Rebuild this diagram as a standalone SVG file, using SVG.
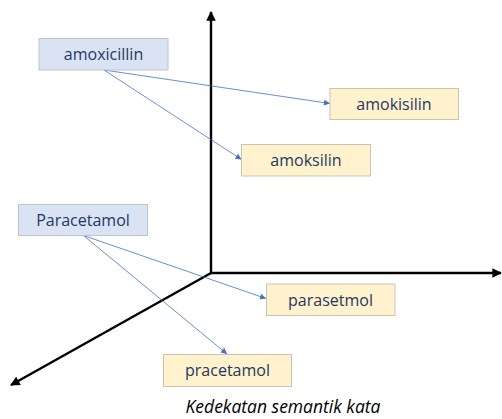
<svg xmlns="http://www.w3.org/2000/svg" width="502" height="419" viewBox="0 0 502 419">
  <defs>
    <marker id="axisHead" viewBox="0 0 10 10" refX="9" refY="5" markerWidth="4" markerHeight="4" orient="auto" markerUnits="strokeWidth">
      <path d="M0,0 L10,5 L0,10 z" fill="#000"/>
    </marker>
    <marker id="linkHead" viewBox="0 0 10 10" refX="10" refY="5" markerWidth="8" markerHeight="6" orient="auto" markerUnits="userSpaceOnUse">
      <path d="M0,0 L10,5 L0,10 z" fill="#4472c4"/>
    </marker>
    <style>
      .axis { stroke: #000; stroke-width: 2.4; fill: none; marker-end: url(#axisHead); }
      .link { stroke: #4472c4; stroke-width: 0.8; fill: none; marker-end: url(#linkHead); }
      .src rect { fill: #dae3f3; stroke: #bfc4cc; stroke-width: 1; }
      .dst rect { fill: #fff2cc; stroke: #c8c4b4; stroke-width: 1; }
      .label { font-family: "Open Sans", "Liberation Sans", sans-serif; font-size: 16px; fill: #1f3864; text-anchor: middle; }
      .caption { font-family: "Open Sans", "Liberation Sans", sans-serif; font-size: 17.5px; font-style: italic; fill: #000; text-anchor: middle; }
    </style>
  </defs>

  <!-- coordinate axes -->
  <g id="axes">
    <line class="axis" x1="211" y1="273" x2="211" y2="12"/>
    <line class="axis" x1="210" y1="273" x2="501" y2="273"/>
    <line class="axis" x1="211" y1="273" x2="11" y2="385"/>
  </g>

  <!-- connectors -->
  <g id="connectors">
    <line class="link" x1="104" y1="70" x2="330" y2="103.5"/>
    <line class="link" x1="104" y1="70" x2="241.5" y2="159.5"/>
    <line class="link" x1="83.5" y1="235.5" x2="266" y2="298.5"/>
    <line class="link" x1="83.5" y1="235.5" x2="227" y2="354"/>
  </g>

  <g id="amoxicillin" class="src">
    <rect x="39" y="38.5" width="129" height="31.5"/>
    <text class="label" x="103.5" y="59.5">amoxicillin</text>
  </g>

  <g id="amokisilin" class="dst">
    <rect x="330" y="88.5" width="128.5" height="31"/>
    <text class="label" x="394" y="109.5">amokisilin</text>
  </g>

  <g id="amoksilin" class="dst">
    <rect x="241.5" y="144.5" width="129" height="31.5"/>
    <text class="label" x="306" y="165.5">amoksilin</text>
  </g>

  <g id="Paracetamol" class="src">
    <rect x="18.5" y="204.5" width="129" height="31"/>
    <text class="label" x="83" y="225.5">Paracetamol</text>
  </g>

  <g id="parasetmol" class="dst">
    <rect x="266.5" y="284" width="128.5" height="31.5"/>
    <text class="label" x="330.5" y="305.5">parasetmol</text>
  </g>

  <g id="pracetamol" class="dst">
    <rect x="163.5" y="354.5" width="128" height="32"/>
    <text class="label" x="227.5" y="376">pracetamol</text>
  </g>

  <text id="caption" class="caption" x="283" y="413">Kedekatan semantik kata</text>
</svg>
